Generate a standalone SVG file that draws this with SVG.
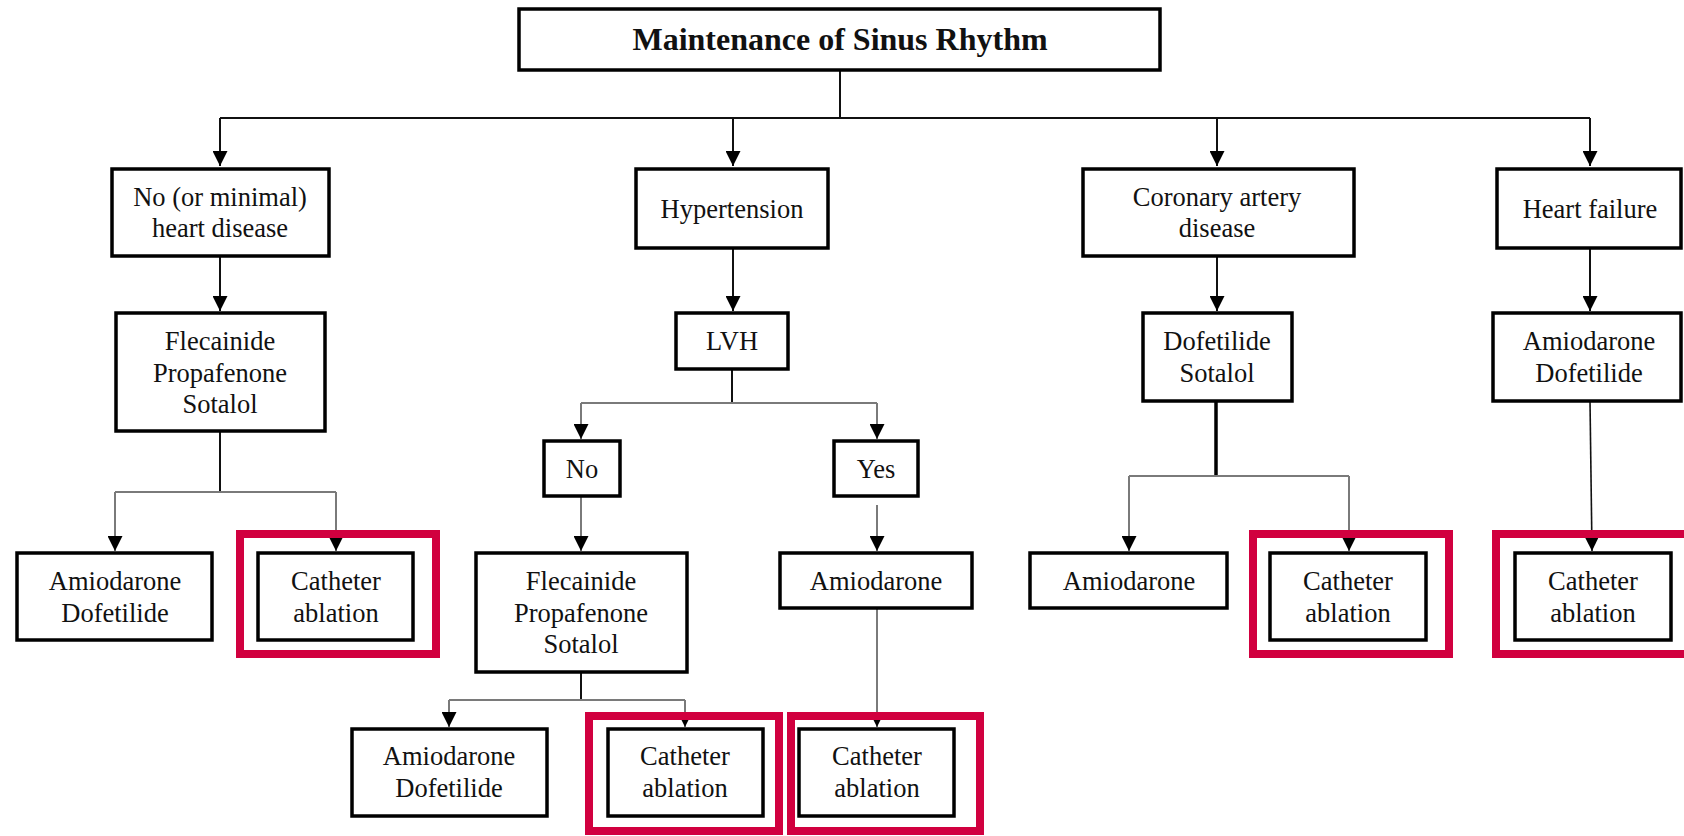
<svg xmlns="http://www.w3.org/2000/svg" width="1684" height="836" viewBox="0 0 1684 836">
<style>
.box{fill:#fff;stroke:#000;stroke-width:3.5}
.t{font-family:"Liberation Serif","Times New Roman",serif;font-size:26.5px;fill:#111;text-anchor:middle}
.title{font-weight:bold;font-size:32px}
.c{fill:none;stroke:#111;stroke-width:2}
.g{fill:none;stroke:#7a7a7a;stroke-width:2}
.k{fill:none;stroke:#000;stroke-width:3.5}
.red{fill:none;stroke:#D1003F;stroke-width:8}
</style>
<defs>
<marker id="ah" markerUnits="userSpaceOnUse" markerWidth="15" markerHeight="15" refX="15" refY="7.5" orient="auto">
<path d="M0,0 L15,7.5 L0,15 z" fill="#000"/>
</marker>
</defs>
<rect x="0" y="0" width="1684" height="836" fill="#fff"/>
<g id="connectors">
<path class="c" d="M840,70 V118 M220,118 H1590"/>
<path class="c" d="M220,118 V166" marker-end="url(#ah)"/>
<path class="c" d="M733,118 V166" marker-end="url(#ah)"/>
<path class="c" d="M1217,118 V166" marker-end="url(#ah)"/>
<path class="c" d="M1590,118 V166" marker-end="url(#ah)"/>
<path class="c" d="M220,256 V311" marker-end="url(#ah)"/>
<path class="c" d="M733,248 V311" marker-end="url(#ah)"/>
<path class="c" d="M1217,257 V311" marker-end="url(#ah)"/>
<path class="c" d="M1590,249 V311" marker-end="url(#ah)"/>
<path class="c" d="M220,432 V492"/>
<path class="g" d="M115,492 H336"/>
<path class="g" d="M115,492 V551" marker-end="url(#ah)"/>
<path class="g" d="M336,492 V551" marker-end="url(#ah)"/>
<path class="c" d="M732,369 V403"/>
<path class="g" d="M581,403 H877"/>
<path class="g" d="M581,403 V439" marker-end="url(#ah)"/>
<path class="g" d="M877,403 V439" marker-end="url(#ah)"/>
<path class="g" d="M581,497 V551" marker-end="url(#ah)"/>
<path class="g" d="M877,505 V551" marker-end="url(#ah)"/>
<path class="c" d="M581,673 V700"/>
<path class="g" d="M449,700 H685"/>
<path class="g" d="M449,700 V727" marker-end="url(#ah)"/>
<path class="g" d="M685,700 V727" marker-end="url(#ah)"/>
<path class="g" d="M877,609 V727" marker-end="url(#ah)"/>
<path class="k" d="M1216,401 V476"/>
<path class="g" d="M1129,476 H1349"/>
<path class="g" d="M1129,476 V551" marker-end="url(#ah)"/>
<path class="g" d="M1349,476 V551" marker-end="url(#ah)"/>
<path class="c" style="stroke-width:1.6" d="M1590,401 L1592,551" marker-end="url(#ah)"/>
</g>
<g id="title">
<rect class="box" x="519" y="9" width="641" height="61"/>
<text class="t title" x="840" y="50">Maintenance of Sinus Rhythm</text>
</g>
<g id="no-heart-disease">
<rect class="box" x="112" y="169" width="217" height="87"/>
<text class="t" x="220" y="206">No (or minimal)</text>
<text class="t" x="220" y="237">heart disease</text>
</g>
<g id="hypertension">
<rect class="box" x="636" y="169" width="192" height="79"/>
<text class="t" x="732" y="218">Hypertension</text>
</g>
<g id="cad">
<rect class="box" x="1083" y="169" width="271" height="87"/>
<text class="t" x="1217" y="206">Coronary artery</text>
<text class="t" x="1217" y="237">disease</text>
</g>
<g id="heart-failure">
<rect class="box" x="1497" y="169" width="184" height="79"/>
<text class="t" x="1590" y="218">Heart failure</text>
</g>
<g id="drugs-no-hd">
<rect class="box" x="116" y="313" width="209" height="118"/>
<text class="t" x="220" y="350">Flecainide</text>
<text class="t" x="220" y="382">Propafenone</text>
<text class="t" x="220" y="413">Sotalol</text>
</g>
<g id="lvh">
<rect class="box" x="676" y="313" width="112" height="56"/>
<text class="t" x="732" y="350">LVH</text>
</g>
<g id="drugs-cad">
<rect class="box" x="1143" y="313" width="149" height="88"/>
<text class="t" x="1217" y="350">Dofetilide</text>
<text class="t" x="1217" y="382">Sotalol</text>
</g>
<g id="drugs-hf">
<rect class="box" x="1493" y="313" width="188" height="88"/>
<text class="t" x="1589" y="350">Amiodarone</text>
<text class="t" x="1589" y="382">Dofetilide</text>
</g>
<g id="amio-dof-1">
<rect class="box" x="17" y="553" width="195" height="87"/>
<text class="t" x="115" y="590">Amiodarone</text>
<text class="t" x="115" y="622">Dofetilide</text>
</g>
<g id="ablation-1">
<rect class="red" x="240" y="534" width="196" height="120"/>
<rect class="box" x="258" y="553" width="155" height="87"/>
<text class="t" x="336" y="590">Catheter</text>
<text class="t" x="336" y="622">ablation</text>
</g>
<g id="lvh-no">
<rect class="box" x="544" y="441" width="76" height="55"/>
<text class="t" x="582" y="478">No</text>
</g>
<g id="lvh-yes">
<rect class="box" x="834" y="441" width="84" height="55"/>
<text class="t" x="876" y="478">Yes</text>
</g>
<g id="drugs-no-lvh">
<rect class="box" x="476" y="553" width="211" height="119"/>
<text class="t" x="581" y="590">Flecainide</text>
<text class="t" x="581" y="622">Propafenone</text>
<text class="t" x="581" y="653">Sotalol</text>
</g>
<g id="amio-lvh">
<rect class="box" x="780" y="553" width="192" height="55"/>
<text class="t" x="876" y="590">Amiodarone</text>
</g>
<g id="amio-cad">
<rect class="box" x="1030" y="553" width="197" height="55"/>
<text class="t" x="1129" y="590">Amiodarone</text>
</g>
<g id="ablation-cad">
<rect class="red" x="1253" y="534" width="196" height="120"/>
<rect class="box" x="1270" y="553" width="156" height="87"/>
<text class="t" x="1348" y="590">Catheter</text>
<text class="t" x="1348" y="622">ablation</text>
</g>
<g id="ablation-hf">
<rect class="red" x="1496" y="534" width="196" height="120"/>
<rect class="box" x="1515" y="553" width="156" height="87"/>
<text class="t" x="1593" y="590">Catheter</text>
<text class="t" x="1593" y="622">ablation</text>
</g>
<g id="amio-dof-2">
<rect class="box" x="352" y="729" width="195" height="87"/>
<text class="t" x="449" y="765">Amiodarone</text>
<text class="t" x="449" y="797">Dofetilide</text>
</g>
<g id="ablation-2">
<rect class="red" x="589" y="716" width="190" height="115"/>
<rect class="box" x="608" y="729" width="155" height="87"/>
<text class="t" x="685" y="765">Catheter</text>
<text class="t" x="685" y="797">ablation</text>
</g>
<g id="ablation-3">
<rect class="red" x="791" y="716" width="189" height="115"/>
<rect class="box" x="799" y="729" width="155" height="87"/>
<text class="t" x="877" y="765">Catheter</text>
<text class="t" x="877" y="797">ablation</text>
</g>
</svg>
